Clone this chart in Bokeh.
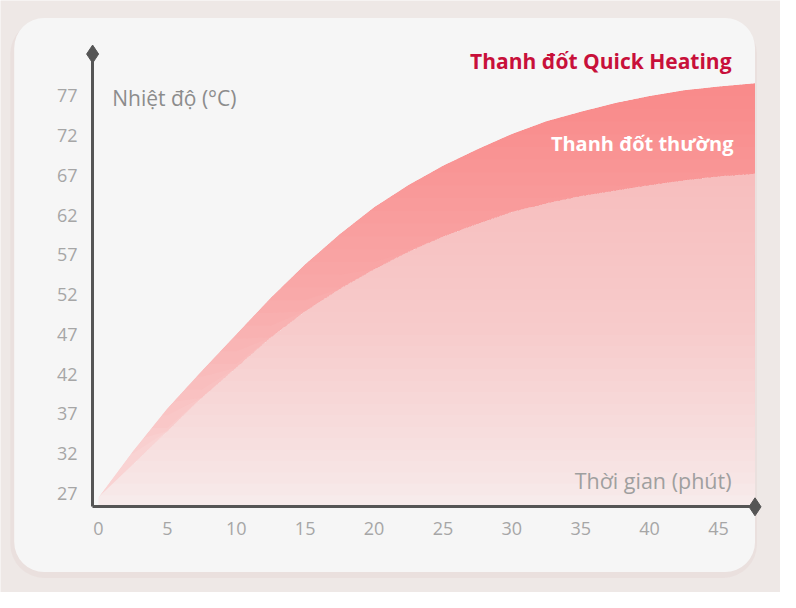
import numpy as np
from bokeh.plotting import figure
from bokeh.models import BoxAnnotation, Label, FixedTicker, Range1d
from bokeh.embed import file_html
from bokeh.resources import INLINE

# ---------------- data ----------------
time_min = [0, 2.5, 5, 7.5, 10, 12.5, 15, 17.5, 20, 22.5, 25, 27.5, 30,
            32.5, 35, 37.5, 40, 42.5, 45, 47.65]
quick_heating = [26.5, 32.3, 37.7, 42.4, 47.0, 51.6, 55.8, 59.6, 63.0, 65.8,
                 68.2, 70.3, 72.2, 73.8, 75.0, 76.1, 77.0, 77.7, 78.2, 78.6]
normal_heating = [26.5, 30.6, 34.8, 39.0, 42.8, 46.6, 49.9, 52.7, 55.2, 57.4,
                  59.3, 60.9, 62.4, 63.5, 64.4, 65.1, 65.8, 66.4, 66.9, 67.2]
x_ticks = [0, 5, 10, 15, 20, 25, 30, 35, 40, 45]
y_ticks = [27, 32, 37, 42, 47, 52, 57, 62, 67, 72, 77]
series_names = ["Thanh đốt Quick Heating", "Thanh đốt thường"]
axis_titles = ["Nhiệt độ (°C)", "Thời gian (phút)"]

# ---------------- geometry (design grid of 796 x 608, scaled to the figure) ----
W, H = 780, 592
REF_W, REF_H = 796.0, 608.0
X0, XPX = 100.0, 14.06      # design px of x=0, design px per minute
Y27, YPX = 506.0, 8.16      # design px of y=27 (from top), design px per degree

x_start = -X0 / XPX
x_end = (REF_W - X0) / XPX
y_end = 27 + Y27 / YPX
y_start = 27 - (REF_H - Y27) / YPX


def dx(px):
    return x_start + px / XPX


def dy(py):
    return y_end - py / YPX


FONT = "Open Sans"
AXIS_COLOR = "#555555"
OUTER = "#eee8e6"
CARD = "#f6f6f6"

p = figure(width=W, height=H,
           x_range=Range1d(x_start, x_end), y_range=Range1d(y_start, y_end),
           output_backend="svg", toolbar_location=None, min_border=0,
           background_fill_color=OUTER, border_fill_color=OUTER,
           outline_line_color=None)
p.xgrid.visible = False
p.ygrid.visible = False

# card + soft shadow
p.add_layout(BoxAnnotation(left=dx(10), right=dx(772), top=dy(20), bottom=dy(593),
                           fill_color="#e8dad8", fill_alpha=0.6, line_color=None,
                           border_radius=34, level="underlay"))
p.add_layout(BoxAnnotation(left=dx(14), right=dx(770), top=dy(18), bottom=dy(587),
                           fill_color=CARD, fill_alpha=1.0, line_color=None,
                           border_radius=30, level="underlay"))

t = np.array(time_min)
q = np.array(quick_heating)
n = np.array(normal_heating)
x_axis_y = dy(520)
y_axis_x = dx(94)

# lower region (normal heating): vertical gradient, fading towards the x axis
p.varea(x=t, y1=x_axis_y, y2=n, fill_color="#ffb5b5", fill_alpha=0.12)
for L in np.linspace(x_axis_y, n.max(), 30):
    p.varea(x=t, y1=np.maximum(x_axis_y, L), y2=np.maximum(n, L),
            fill_color="#ffb5b5", fill_alpha=0.04)

# band between normal and quick heating: pale at the bottom, strong at the top
p.varea(x=t, y1=n, y2=q, fill_color="#f9d3d3", fill_alpha=1.0)
for L in np.linspace(32, q.max(), 30):
    p.varea(x=t, y1=np.maximum(n, L), y2=np.maximum(q, L),
            fill_color="#f76464", fill_alpha=0.036)

# keep the area above the quick-heating curve clean
p.varea(x=t, y1=q, y2=dy(50), fill_color=CARD, fill_alpha=1.0)

# axes drawn inside the frame
for ax, loc, bnds, ticks in ((p.xaxis[0], x_axis_y, (y_axis_x, dx(770)), x_ticks),
                             (p.yaxis[0], y_axis_x, (x_axis_y, dy(55)), y_ticks)):
    ax.fixed_location = loc
    ax.bounds = bnds
    ax.ticker = FixedTicker(ticks=ticks)
    ax.axis_line_color = AXIS_COLOR
    ax.axis_line_width = 3
    ax.major_tick_out = 0
    ax.major_tick_in = 0
    ax.minor_tick_out = 0
    ax.minor_tick_in = 0
    ax.major_label_text_font = FONT
    ax.major_label_text_font_size = "18px"
    ax.major_label_text_color = "#a6a6a6"
p.xaxis.major_label_standoff = 15
p.yaxis.major_label_standoff = 15

# diamond ends of the axes
p.scatter(x=[y_axis_x, dx(770)], y=[dy(55), x_axis_y], marker="diamond",
          size=18, color=AXIS_COLOR)

# texts
p.add_layout(Label(x=dx(746), y=dy(62), text=series_names[0], text_align="right",
                   text_baseline="middle", text_font=FONT, text_font_style="bold",
                   text_font_size="21px", text_color="#c8103a"))
p.add_layout(Label(x=dx(748), y=dy(147), text=series_names[1], text_align="right",
                   text_baseline="middle", text_font=FONT, text_font_style="bold",
                   text_font_size="20px", text_color="#ffffff"))
p.add_layout(Label(x=dx(114), y=dy(100), text=axis_titles[0], text_align="left",
                   text_baseline="middle", text_font=FONT,
                   text_font_size="21px", text_color="#8c8c8c"))
p.add_layout(Label(x=dx(746), y=dy(493), text=axis_titles[1], text_align="right",
                   text_baseline="middle", text_font=FONT,
                   text_font_size="21.5px", text_color="#9f9f9f"))

open("out.html", "w").write(file_html(p, INLINE))
